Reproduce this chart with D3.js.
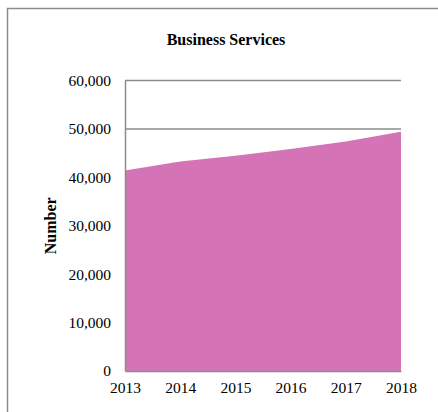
<!DOCTYPE html>
<html>
<head>
<meta charset="utf-8">
<script src="https://cdn.jsdelivr.net/npm/d3@7"></script>
<style>
  html, body { margin: 0; padding: 0; background: #fff; }
  svg { display: block; }
</style>
</head>
<body>
<div id="chart"></div>
<script>
// Business Services: number per year
const years = [2013, 2014, 2015, 2016, 2017, 2018];
const counts = [41400, 43250, 44480, 45870, 47380, 49440];
const yTicks = [0, 10000, 20000, 30000, 40000, 50000, 60000];
const chartTitle = "Business Services";
const yLabel = "Number";

const W = 438, H = 412;
const margin = { left: 125, right: 37, top: 80.5, bottom: 41 };
const font = "'Liberation Serif', 'Times New Roman', serif";

const svg = d3.select("#chart").append("svg")
  .attr("width", W).attr("height", H);

// Outer frame
svg.append("rect")
  .attr("x", 7.5).attr("y", 8.5)
  .attr("width", W).attr("height", H)
  .attr("fill", "none").attr("stroke", "#8c8c8c").attr("stroke-width", 1.5);

const x = d3.scalePoint().domain(years).range([margin.left, W - margin.right]);
const y = d3.scaleLinear().domain([0, 60000]).range([H - margin.bottom, margin.top]);

// Horizontal gridlines
svg.append("g").selectAll("line").data(yTicks.filter(d => d > 0)).join("line")
  .attr("x1", margin.left).attr("x2", W - margin.right)
  .attr("y1", d => y(d)).attr("y2", d => y(d))
  .attr("stroke", "#8c8c8c").attr("stroke-width", 1.5);

// Area
const area = d3.area()
  .x((d, i) => x(years[i]))
  .y0(y(0))
  .y1(d => y(d));
svg.append("path")
  .datum(counts)
  .attr("d", area)
  .attr("fill", "#d473b6");

// Y axis
const yAxis = svg.append("g")
  .attr("transform", `translate(${margin.left},0)`)
  .call(d3.axisLeft(y).tickValues(yTicks).tickFormat(d3.format(",")).tickSize(0).tickPadding(14));
yAxis.select(".domain").attr("stroke", "#8c8c8c").attr("stroke-width", 1.5);
yAxis.selectAll("text").attr("font-family", font).attr("font-size", 15.5).attr("fill", "#000");

// X axis
const xAxis = svg.append("g")
  .attr("transform", `translate(0,${y(0)})`)
  .call(d3.axisBottom(x).tickSize(0).tickPadding(11));
xAxis.select(".domain").attr("stroke", "#8c8c8c").attr("stroke-width", 1.5);
xAxis.selectAll("text").attr("font-family", font).attr("font-size", 15.5).attr("fill", "#000");

// Title
svg.append("text")
  .attr("x", 226).attr("y", 45)
  .attr("text-anchor", "middle")
  .attr("font-family", font).attr("font-size", 16).attr("font-weight", "bold")
  .text(chartTitle);

// Y axis label
svg.append("text")
  .attr("transform", `translate(56,${y(30000)}) rotate(-90)`)
  .attr("text-anchor", "middle")
  .attr("font-family", font).attr("font-size", 16).attr("font-weight", "bold")
  .text(yLabel);
</script>
</body>
</html>
